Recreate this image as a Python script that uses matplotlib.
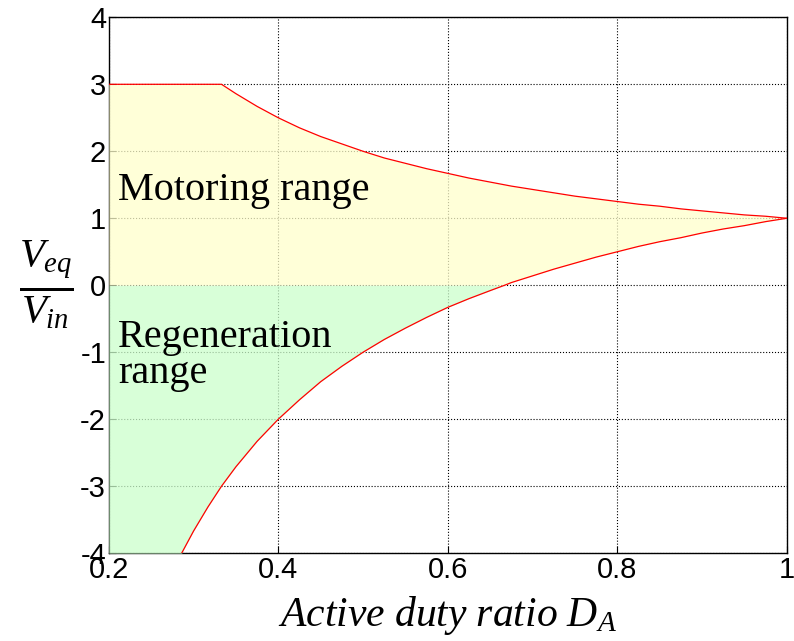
import numpy as np
import matplotlib
matplotlib.use('Agg')
import matplotlib.pyplot as plt

plt.rcParams['mathtext.fontset'] = 'custom'
plt.rcParams['mathtext.rm'] = 'Liberation Serif'
plt.rcParams['mathtext.it'] = 'Liberation Serif:italic'
plt.rcParams['axes.unicode_minus'] = False

# upper boundary (motoring limit)
d_up = [0.2, 0.333, 0.35, 0.375, 0.4, 0.425, 0.45, 0.475, 0.5, 0.525, 0.55, 0.575, 0.6, 0.625,
        0.65, 0.675, 0.7, 0.725, 0.75, 0.775, 0.8, 0.825, 0.85, 0.875, 0.9, 0.925, 0.95, 0.975, 1.0]
v_up = [3.0, 3.0, 2.86, 2.67, 2.5, 2.35, 2.22, 2.11, 2.0, 1.9, 1.82, 1.74, 1.67, 1.6,
        1.54, 1.48, 1.43, 1.38, 1.33, 1.29, 1.25, 1.21, 1.18, 1.14, 1.11, 1.08, 1.05, 1.03, 1.0]

# lower boundary (regeneration limit)
d_lo = [0.286, 0.3, 0.317, 0.333, 0.35, 0.375, 0.4, 0.425, 0.45, 0.475, 0.5, 0.525, 0.55, 0.575,
        0.6, 0.625, 0.65, 0.667, 0.675, 0.7, 0.725, 0.75, 0.775, 0.8, 0.825, 0.85, 0.875, 0.9,
        0.925, 0.95, 0.975, 1.0]
v_lo = [-4.0, -3.67, -3.31, -3.0, -2.71, -2.33, -2.0, -1.71, -1.44, -1.21, -1.0, -0.81, -0.64, -0.48,
        -0.33, -0.2, -0.08, 0.0, 0.04, 0.14, 0.24, 0.33, 0.42, 0.5, 0.58, 0.65, 0.71, 0.78,
        0.84, 0.89, 0.95, 1.0]

xticks = [0.2, 0.4, 0.6, 0.8, 1.0]
xtick_labels = ['0.2', '0.4', '0.6', '0.8', '1']
yticks = [-4, -3, -2, -1, 0, 1, 2, 3, 4]

fig = plt.figure(figsize=(7.94, 6.41), dpi=100)
ax = fig.add_axes([0.137, 0.137, 0.854, 0.836])

# common x grid for the fills
xs = np.array(sorted(set(d_up) | set(d_lo) | {0.2}))
up = np.interp(xs, d_up, v_up)
lo = np.interp(xs, [0.2] + d_lo, [-4.0] + v_lo)

ax.fill_between(xs, np.maximum(lo, 0), up, color='#ffffcc', alpha=0.75, lw=0, zorder=3)
ax.fill_between(xs, lo, 0, where=lo < 0, color='#ccffcc', alpha=0.75, lw=0,
                interpolate=True, zorder=3)

ax.plot(d_up, v_up, color='red', lw=0.9, zorder=4)
ax.plot(d_lo, v_lo, color='red', lw=0.9, zorder=4)

ax.set_xlim(0.2, 1.0)
ax.set_ylim(-4, 4)
ax.set_xticks(xticks)
ax.set_xticklabels(xtick_labels)
ax.set_yticks(yticks)
ax.grid(True, color='black', linestyle=':', linewidth=0.8, zorder=0)
ax.set_axisbelow(True)
for s in ax.spines.values():
    s.set_linewidth(1.0)
ax.tick_params(labelsize=21, direction='in', length=5, width=0.8, pad=2)
for lab in ax.get_xticklabels() + ax.get_yticklabels():
    lab.set_family('Liberation Sans')

ax.text(0.211, 1.42, 'Motoring range', fontsize=29, family='Liberation Serif', va='center', zorder=5)
ax.text(0.211, -1.05, 'Regeneration\nrange', fontsize=29, family='Liberation Serif', va='center',
        linespacing=0.95, zorder=5)

ax.set_xlabel(r'$Active\ duty\ ratio\ D_A$', fontsize=30, labelpad=7)
fig.text(0.058, 0.556, r'$\frac{V_{eq}}{V_{in}}$', fontsize=42, ha='center', va='center')

fig.savefig('out.png', dpi=100)
